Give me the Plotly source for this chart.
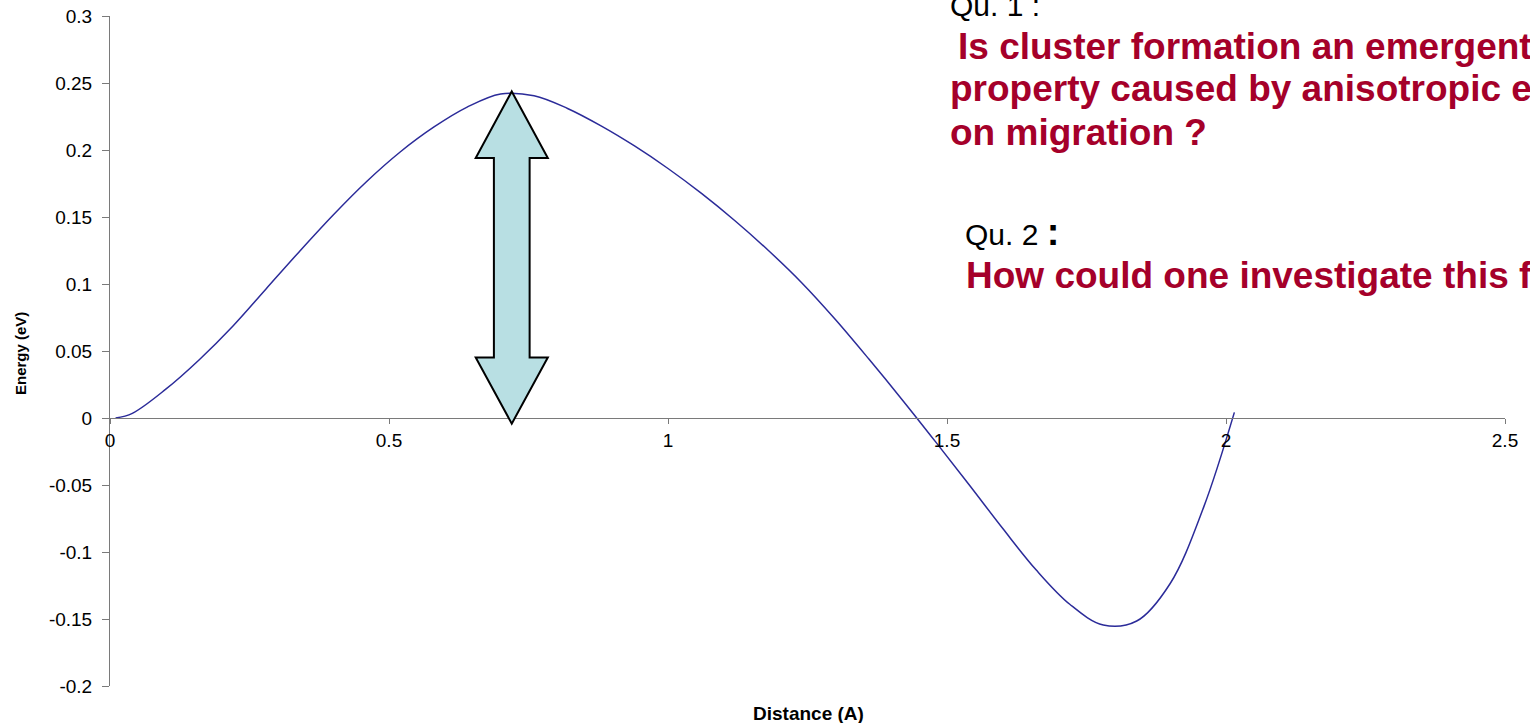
''' Energy profile along the migration path, with the barrier arrow and the two questions '''

import plotly.graph_objects as go

# Values
DISTANCE = [0.01, 0.04, 0.10, 0.16, 0.22, 0.28, 0.34, 0.40, 0.46, 0.52, 0.58, 0.64, 0.70,
            0.76, 0.82, 0.88, 0.94, 1.00, 1.06, 1.12, 1.18, 1.24, 1.30, 1.36, 1.42, 1.48,
            1.54, 1.60, 1.66, 1.72, 1.78, 1.84, 1.90, 1.96, 2.015]
ENERGY = [0.0, 0.0035, 0.0215, 0.0435, 0.0685, 0.0965, 0.1245, 0.1515, 0.1765, 0.1985, 0.2170, 0.2320, 0.2418,
          0.2405, 0.2310, 0.2180, 0.2030, 0.1862, 0.1676, 0.1472, 0.1250, 0.1008, 0.0735, 0.0440, 0.0135, -0.0180,
          -0.0500, -0.0825, -0.1135, -0.1390, -0.1545, -0.1515, -0.1235, -0.0665, 0.0042]

X_TICKS = [0, 0.5, 1, 1.5, 2, 2.5]
X_TICK_TEXT = ['0', '0.5', '1', '1.5', '2', '2.5']
Y_TICKS = [-0.2, -0.15, -0.1, -0.05, 0, 0.05, 0.1, 0.15, 0.2, 0.25, 0.3]
Y_TICK_TEXT = ['-0.2', '-0.15', '-0.1', '-0.05', '0', '0.05', '0.1', '0.15', '0.2', '0.25', '0.3']

# Figure geometry (pixels) so that annotations can be placed in paper coords
W, H = 1530, 723
L, R, T, B = 110, 25, 16, 37
PW, PH = W - L - R, H - T - B

def px(x):
    return (x - L) / PW

def py(y):
    return (H - B - y) / PH

RED = '#A5002A'
FONT = 'Liberation Sans, Arial, sans-serif'

fig = go.Figure()

# The energy curve
fig.add_trace(go.Scatter(
    x=DISTANCE, y=ENERGY,
    mode='lines',
    line=dict(color='#2B2B99', width=1.5, shape='spline', smoothing=1.0),
    hoverinfo='skip',
    showlegend=False,
))

# Double headed block arrow marking the barrier height (data coords)
ax, top, bot = 0.72, 0.2437, -0.0042
head_top, head_bot = 0.194, 0.0452
hw, sw = 0.0646, 0.032
pts = [(ax, top), (ax + hw, head_top), (ax + sw, head_top), (ax + sw, head_bot),
       (ax + hw, head_bot), (ax, bot), (ax - hw, head_bot), (ax - sw, head_bot),
       (ax - sw, head_top), (ax - hw, head_top)]
path = 'M ' + ' L '.join(f'{x},{y}' for x, y in pts) + ' Z'
fig.add_shape(type='path', path=path, xref='x', yref='y',
              fillcolor='#B8DFE3', line=dict(color='black', width=2), layer='above')

# Texts in the top right corner (left x, centre y in pixels)
texts = [
    ('Qu. 1 :', 948, 5, 30, 'black', False),
    ('Is cluster formation an emergent', 956, 46, 37, RED, True),
    ('property caused by anisotropic effects', 948, 89, 37, RED, True),
    ('on migration ?', 948, 132, 37, RED, True),
    ('Qu. 2 <b><span style="font-size:38px">:</span></b>', 963, 232, 30, 'black', False),
    ('How could one investigate this further ?', 964, 275, 37, RED, True),
]
for txt, x, y, size, color, bold in texts:
    fig.add_annotation(
        text=f'<b>{txt}</b>' if bold else txt,
        x=px(x), y=py(y), xref='paper', yref='paper',
        xanchor='left', yanchor='middle', showarrow=False,
        font=dict(family=FONT, size=size, color=color),
    )

# Axis titles
fig.add_annotation(text='<b>Distance (A)</b>', x=px(808), y=py(713), xref='paper', yref='paper',
                   showarrow=False, xanchor='center', yanchor='middle',
                   font=dict(family=FONT, size=19, color='black'))
fig.add_annotation(text='<b>Energy (eV)</b>', x=px(20), y=py(354), xref='paper', yref='paper',
                   showarrow=False, textangle=-90, xanchor='center', yanchor='middle',
                   font=dict(family=FONT, size=15, color='black'))

fig.update_layout(
    width=W, height=H,
    margin=dict(l=L, r=R, t=T, b=B),
    plot_bgcolor='white', paper_bgcolor='white',
    font=dict(family=FONT, size=19, color='black'),
    xaxis=dict(
        range=[0, 2.5], anchor='free', position=0.4,  # axis crosses at Energy = 0
        showline=True, linecolor='#7a7a7a', linewidth=1,
        ticks='outside', ticklen=5, tickcolor='#7a7a7a',
        tickmode='array', tickvals=X_TICKS, ticktext=X_TICK_TEXT,
        showgrid=False, zeroline=False, automargin=False,
    ),
    yaxis=dict(
        range=[-0.2, 0.3],
        showline=True, linecolor='#7a7a7a', linewidth=1,
        ticks='outside', ticklen=7, tickcolor='#7a7a7a',
        tickmode='array', tickvals=Y_TICKS, ticktext=Y_TICK_TEXT,
        ticklabelstandoff=6,
        showgrid=False, zeroline=False, automargin=False,
    ),
)

# Drop the default page margin so the figure sits at the top-left corner
fig.write_html('out.html', config={'displayModeBar': False},
               post_script="document.body.style.margin='0';")
